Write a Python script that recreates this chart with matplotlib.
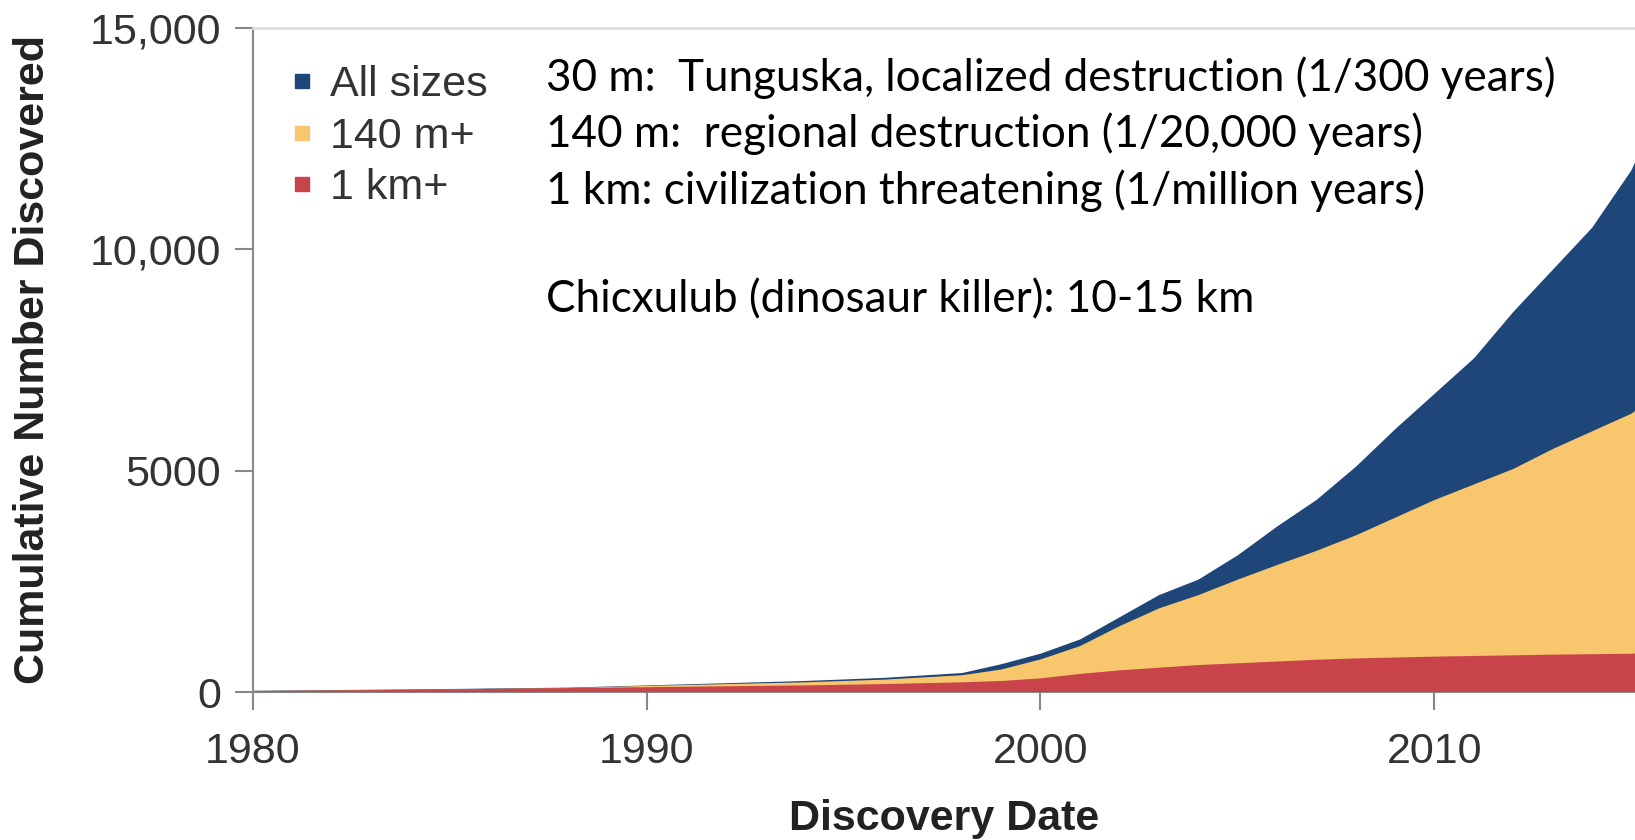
import matplotlib
matplotlib.use("Agg")
import matplotlib.pyplot as plt
from matplotlib.lines import Line2D

# === Data ===
years = [1980, 1982, 1984, 1986, 1988, 1990, 1992, 1994, 1996, 1998, 1999,
         2000, 2001, 2002, 2003, 2004, 2005, 2006, 2007, 2008, 2009, 2010,
         2011, 2012, 2013, 2014, 2015, 2015.1]
all_sizes = [40, 55, 70, 90, 110, 160, 210, 260, 330, 440, 640,
             880, 1200, 1700, 2200, 2550, 3100, 3750, 4350, 5100, 5950, 6750,
             7550, 8600, 9550, 10500, 11800, 12000]
m140_plus = [35, 45, 60, 80, 100, 150, 190, 230, 290, 390, 520,
             750, 1050, 1500, 1900, 2200, 2550, 2880, 3200, 3550, 3950, 4350,
             4700, 5050, 5500, 5900, 6300, 6370]
km1_plus = [30, 45, 60, 80, 100, 120, 140, 160, 190, 230, 260,
            320, 420, 500, 560, 620, 660, 700, 740, 770, 790, 810,
            825, 840, 855, 865, 875, 880]

series_labels = ["All sizes", "140 m+", "1 km+"]
series_colors = ["#1F4678", "#F8C66C", "#C8434A"]

notes = [
    "30 m:  Tunguska, localized destruction (1/300 years)",
    "140 m:  regional destruction (1/20,000 years)",
    "1 km: civilization threatening (1/million years)",
    "",
    "Chicxulub (dinosaur killer): 10-15 km",
]

plt.rcParams["font.family"] = ["Liberation Sans", "DejaVu Sans"]

fig = plt.figure(figsize=(16.35, 8.4), dpi=100)
ax = fig.add_axes([253 / 1635, 1 - 692 / 840, 1 - 253 / 1635, (692 - 28) / 840])

for vals, col in zip([all_sizes, m140_plus, km1_plus], series_colors):
    ax.fill_between(years, 0, vals, color=col, linewidth=0)

ax.set_xlim(1980, 2015.1)
ax.set_ylim(0, 15000)
ax.set_xticks([1980, 1990, 2000, 2010])
ax.set_yticks([0, 5000, 10000, 15000])
ax.set_yticklabels(["0", "5000", "10,000", "15,000"])

ax.spines["right"].set_visible(False)
ax.spines["top"].set_color("#dddddd")
ax.spines["top"].set_linewidth(2)
ax.spines["left"].set_color("#888888")
ax.spines["left"].set_linewidth(1.5)
ax.spines["bottom"].set_color("#888888")
ax.tick_params(axis="both", colors="#888888", labelcolor="#333333",
               labelsize=31, length=13, width=1.5)
ax.tick_params(axis="y", pad=10)
ax.tick_params(axis="x", pad=16)

ax.set_ylabel("Cumulative Number Discovered", fontsize=31, fontweight="bold",
              color="#222222", labelpad=26)
ax.set_xlabel("Discovery Date", fontsize=31, fontweight="bold",
              color="#222222", labelpad=19)

handles = [Line2D([], [], marker="s", linestyle="none", color=c, markersize=10)
           for c in series_colors]
leg = ax.legend(handles, series_labels, loc="upper left",
                bbox_to_anchor=(0.015, 0.97), frameon=False, fontsize=31,
                handlelength=0.5, handletextpad=0.4, labelspacing=0.27,
                borderaxespad=0)
for t in leg.get_texts():
    t.set_color("#333333")

fig.text(546 / 1635, 1 - 56 / 840, "\n".join(notes), fontsize=31.7,
         family=["Lato", "DejaVu Sans"], color="#000000",
         va="top", ha="left", linespacing=1.4)

fig.savefig("out.png", dpi=100)
